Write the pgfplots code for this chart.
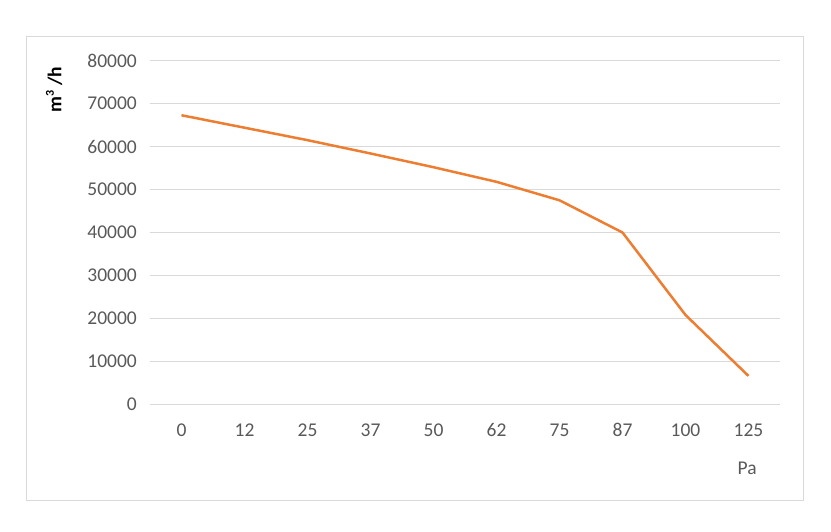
\documentclass[border=0pt]{standalone}
\usepackage{fontspec}
\setmainfont{Carlito}
\usepackage{pgfplots}
\pgfplotsset{compat=1.18}
\definecolor{lineor}{HTML}{ED7D31}
\definecolor{gridg}{HTML}{D9D9D9}
\definecolor{txtg}{HTML}{595959}
\begin{document}
\begin{tikzpicture}
\useasboundingbox (-150bp,-127.7bp) rectangle (681bp,404.3bp);
\draw[gridg, line width=1bp] (-123bp,-95.7bp) rectangle (653bp,367.3bp);
\begin{axis}[
  at={(0,0)}, anchor=south west,
  scale only axis, width=630bp, height=343.6bp,
  xmin=-0.5, xmax=9.5, ymin=0, ymax=80000,
  xtick={0,...,9},
  xticklabels={0,12,25,37,50,62,75,87,100,125},
  ytick={0,10000,...,80000},
  scaled y ticks=false,
  /pgf/number format/fixed,
  /pgf/number format/1000 sep={},
  /pgf/number format/assume math mode=true,
  axis line style={draw=none},
  major tick length=0pt,
  tick style={draw=none},
  ymajorgrids,
  grid style={gridg, line width=1bp},
  font=\fontsize{19.5bp}{23bp}\selectfont,
  tick label style={text=txtg},
  xticklabel style={anchor=base, inner sep=0pt, yshift=-32.4bp},
  yticklabel style={anchor=east, inner sep=0pt, xshift=-13bp},
  xlabel={Pa},
  xlabel style={at={(axis description cs:0.948,-0.185)}, anchor=center, text=txtg, inner sep=0pt},
  ylabel={\bfseries m\textsuperscript{\fontsize{12bp}{12bp}\selectfont 3} /h},
  ylabel style={at={(axis description cs:-0.152,0.915)}, anchor=center, rotate=0, text=black, inner sep=0pt},
]
\addplot[lineor, line width=2.5bp, no markers] coordinates {
(0,67300) (1,64400) (2,61500) (3,58400) (4,55200) (5,51800) (6,47500) (7,40000) (8,20800) (9,6600)
};
\end{axis}
\end{tikzpicture}
\end{document}
